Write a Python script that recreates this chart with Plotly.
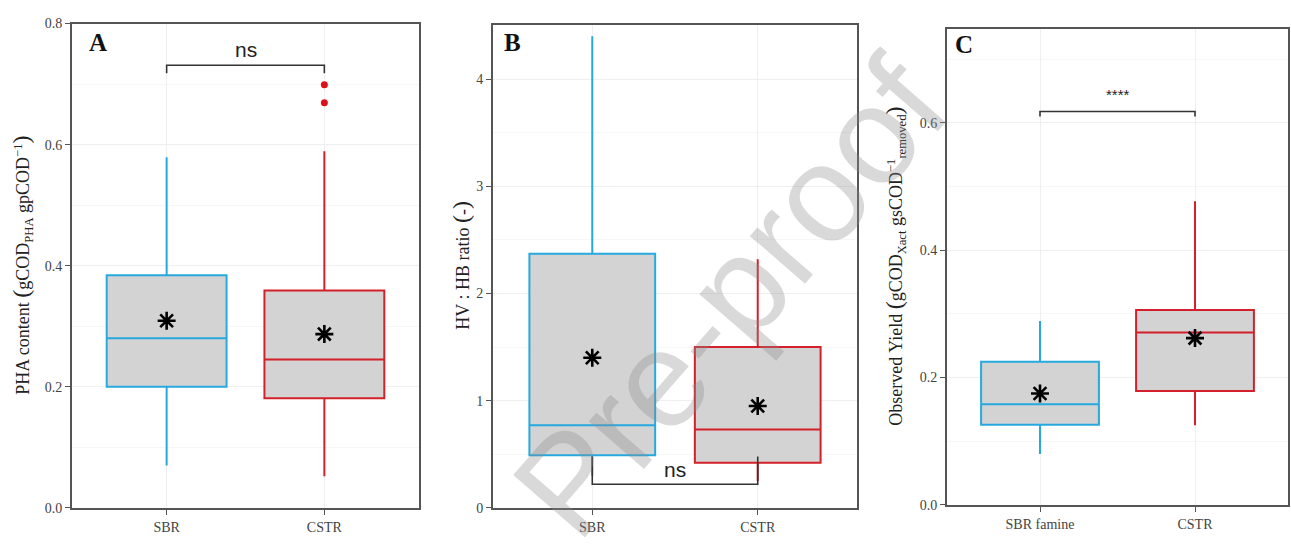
import plotly.graph_objects as go

# ---------------- data ----------------
cats_A = ["SBR", "CSTR"]
q1_A = [0.200, 0.181]
med_A = [0.280, 0.245]
q3_A = [0.384, 0.359]
lo_A = [0.070, 0.052]
hi_A = [0.579, 0.589]
mean_A = [0.309, 0.287]
out_A_x = ["CSTR", "CSTR"]
out_A_y = [0.699, 0.669]
bracket_A = 0.731
bracket_A_tip = 0.718
label_A = "ns"
label_A_y = 0.757

cats_B = ["SBR", "CSTR"]
q1_B = [0.49, 0.42]
med_B = [0.77, 0.73]
q3_B = [2.37, 1.50]
lo_B = [0.30, 0.25]
hi_B = [4.40, 2.32]
mean_B = [1.40, 0.95]
bracket_B = 0.22
bracket_B_tip = 0.48
label_B = "ns"
label_B_y = 0.36

cats_C = ["SBR famine", "CSTR"]
q1_C = [0.126, 0.179]
med_C = [0.158, 0.271]
q3_C = [0.225, 0.306]
lo_C = [0.080, 0.125]
hi_C = [0.289, 0.477]
mean_C = [0.175, 0.262]
bracket_C = 0.618
bracket_C_tip = 0.610
label_C = "****"
label_C_y = 0.645

colors = ["#27A9DE", "#D4202A"]
FILL = "#D3D3D3"
SERIF = "Liberation Serif, Times New Roman, serif"
SANS = "Liberation Sans, Arial, sans-serif"

W, H = 1291, 545
def px(x):
    return x / W
def py(y):
    return 1 - y / H

fig = go.Figure()

panels = [
    dict(cats=cats_A, q1=q1_A, med=med_A, q3=q3_A, lo=lo_A, hi=hi_A, mean=mean_A,
         br=bracket_A, tip=bracket_A_tip, lab=label_A, laby=label_A_y, labsize=21),
    dict(cats=cats_B, q1=q1_B, med=med_B, q3=q3_B, lo=lo_B, hi=hi_B, mean=mean_B,
         br=bracket_B, tip=bracket_B_tip, lab=label_B, laby=label_B_y, labsize=21),
    dict(cats=cats_C, q1=q1_C, med=med_C, q3=q3_C, lo=lo_C, hi=hi_C, mean=mean_C,
         br=bracket_C, tip=bracket_C_tip, lab=label_C, laby=label_C_y, labsize=15),
]

axis_ids = [("x", "y"), ("x2", "y2"), ("x3", "y3")]
ann = []

for p, (xa, ya) in zip(panels, axis_ids):
    for i, c in enumerate(p["cats"]):
        fig.add_trace(go.Box(
            x=[c], q1=[p["q1"][i]], median=[p["med"][i]], q3=[p["q3"][i]],
            lowerfence=[p["lo"][i]], upperfence=[p["hi"][i]],
            fillcolor=FILL, line=dict(color=colors[i], width=2),
            whiskerwidth=0, width=0.76, boxpoints=False,
            xaxis=xa, yaxis=ya, showlegend=False, hoverinfo="skip"))
    c0, c1 = p["cats"]
    fig.add_trace(go.Scatter(
        x=[c0, c0, c1, c1], y=[p["tip"], p["br"], p["br"], p["tip"]],
        mode="lines", line=dict(color="#333333", width=1.6),
        xaxis=xa, yaxis=ya, showlegend=False, hoverinfo="skip"))
    fig.add_trace(go.Scatter(
        x=p["cats"], y=p["mean"], mode="markers",
        marker=dict(symbol="asterisk-open", size=15, color="black",
                    line=dict(color="black", width=2.6)),
        xaxis=xa, yaxis=ya, showlegend=False, hoverinfo="skip"))
    ann.append(dict(text=p["lab"], x=0.5, y=p["laby"], xref=xa, yref=ya,
                    xanchor="center", yanchor="middle", showarrow=False,
                    font=dict(family=SANS, size=p["labsize"], color="#222222")))

fig.add_trace(go.Scatter(
    x=out_A_x, y=out_A_y, mode="markers",
    marker=dict(color="#E0101A", size=7),
    xaxis="x", yaxis="y", showlegend=False, hoverinfo="skip"))

axcommon = dict(showline=True, linecolor="#555555", linewidth=1.8, mirror=True,
                ticks="outside", ticklen=5, tickcolor="#555555", tickwidth=1.2,
                tickfont=dict(family=SERIF, size=14, color="#444444"),
                showgrid=True, gridcolor="#EFEFEF", gridwidth=0.8, zeroline=False)

dom = {
    "x": (72, 419, 17, 515, [0, 0.8], 0.2, 0.1, ".1f"),
    "2": (493, 857, 19, 515, [0, 4.5], 1, 0.5, "d"),
    "3": (947, 1288, 23, 512, [0, 0.747], 0.2, 0.1, ".1f"),
}

layout = dict(width=W, height=H, margin=dict(l=0, r=0, t=0, b=0),
              paper_bgcolor="white", plot_bgcolor="white", showlegend=False)

for k, suf in zip(["x", "2", "3"], ["", "2", "3"]):
    x0, x1, y0, y1, rng, dt, mdt, fmt = dom[k]
    layout["xaxis" + suf] = dict(axcommon, domain=[px(x0), px(x1)], type="category",
                                 range=[-0.6, 1.6], anchor="y" + suf)
    layout["yaxis" + suf] = dict(axcommon, domain=[py(y1), py(y0)], range=rng,
                                 dtick=dt, tick0=0, tickformat=fmt, anchor="x" + suf,
                                 minor=dict(dtick=mdt, showgrid=True, gridcolor="#F6F6F6",
                                            gridwidth=0.6, ticks=""))

fig.update_layout(**layout)

for letter, x, y in [("A", 87, 37), ("B", 502, 37), ("C", 953, 39)]:
    ann.append(dict(text="<b>%s</b>" % letter, x=px(x), y=py(y), xref="paper", yref="paper",
                    xanchor="left", yanchor="middle", showarrow=False,
                    font=dict(family=SERIF, size=25, color="#111111")))

big = "<span style='font-size:24px'>%s</span>"
titles = [
    ("PHA content " + big % "(" + "gCOD<sub>PHA</sub> gpCOD<sup>−1</sup>" + big % ")", 22, 266),
    ("HV : HB ratio " + big % "(" + "-" + big % ")", 461, 266),
    ("Observed Yield " + big % "(" + "gCOD<sub>Xact</sub> gsCOD<sup>−1</sup><sub>removed</sub>" + big % ")", 895, 267),
]
for t, x, y in titles:
    ann.append(dict(text=t, x=px(x), y=py(y), xref="paper", yref="paper",
                    xanchor="center", yanchor="middle", showarrow=False, textangle=-90,
                    font=dict(family=SERIF, size=18, color="#222222")))

ann.append(dict(text="Pre-proof", x=px(730), y=py(298), xref="paper", yref="paper",
                xanchor="center", yanchor="middle", showarrow=False, textangle=-49,
                font=dict(family=SANS, size=138, color="rgba(140,140,140,0.33)")))

fig.update_layout(annotations=ann)

fig.write_html("out.html")
